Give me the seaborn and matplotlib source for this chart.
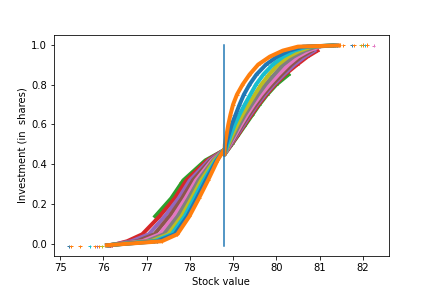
import numpy as np
import pandas as pd
import matplotlib
matplotlib.use("Agg")
import matplotlib.pyplot as plt
import seaborn as sns

# series drawn from the flattest (green) to the steepest (orange)
series_names = ["green", "red", "purple", "brown", "pink",
                "gray", "olive", "cyan", "blue", "orange"]
series_colors = {
    "green": "#2ca02c", "red": "#d62728", "purple": "#9467bd",
    "brown": "#8c564b", "pink": "#e377c2", "gray": "#7f7f7f",
    "olive": "#bcbd22", "cyan": "#17becf", "blue": "#1f77b4",
    "orange": "#ff7f0e",
}

# left branch (below the threshold): stock value at each investment level
left_levels = [-0.005, 0.015, 0.05, 0.14, 0.23, 0.32, 0.42, 0.47]
left_x = {
    "green":  [None, None, None, 77.20, 77.57, 77.85, 78.36, 78.78],
    "red":    [76.20, 76.55, 76.90, 77.30, 77.65, 77.92, 78.40, 78.78],
    "purple": [76.15, 76.65, 77.05, 77.42, 77.74, 78.00, 78.44, 78.78],
    "brown":  [76.15, 76.78, 77.18, 77.53, 77.82, 78.07, 78.48, 78.78],
    "pink":   [76.12, 76.90, 77.30, 77.63, 77.90, 78.14, 78.51, 78.78],
    "gray":   [76.12, 77.00, 77.40, 77.72, 77.97, 78.20, 78.54, 78.78],
    "olive":  [76.10, 77.10, 77.50, 77.81, 78.04, 78.26, 78.57, 78.78],
    "cyan":   [76.10, 77.18, 77.58, 77.88, 78.10, 78.32, 78.60, 78.78],
    "blue":   [76.08, 77.25, 77.65, 77.94, 78.16, 78.37, 78.62, 78.78],
    "orange": [76.08, 77.35, 77.71, 77.99, 78.21, 78.42, 78.64, 78.78],
}

# right branch (above the threshold)
right_levels = [0.45, 0.50, 0.55, 0.60, 0.65, 0.70, 0.75, 0.80,
                0.85, 0.90, 0.94, 0.97, 0.99, 0.996]
right_x = {
    "green":  [78.80, 78.97, 79.13, 79.29, 79.45, 79.61, 79.79, 80.00,
               80.28, None, None, None, None, None],
    "red":    [78.80, 78.96, 79.12, 79.27, 79.43, 79.59, 79.77, 79.97,
               80.20, 80.48, 80.72, 80.95, None, None],
    "purple": [78.80, 78.95, 79.10, 79.25, 79.40, 79.56, 79.74, 79.94,
               80.17, 80.42, 80.66, 80.88, None, None],
    "brown":  [78.80, 78.94, 79.08, 79.22, 79.37, 79.53, 79.70, 79.90,
               80.12, 80.35, 80.58, 80.82, None, None],
    "pink":   [78.80, 78.93, 79.06, 79.19, 79.33, 79.48, 79.65, 79.84,
               80.05, 80.28, 80.50, 80.75, 81.00, None],
    "gray":   [78.80, 78.91, 79.03, 79.15, 79.28, 79.43, 79.58, 79.75,
               79.95, 80.16, 80.40, 80.66, 80.92, 81.30],
    "olive":  [78.80, 78.89, 78.99, 79.10, 79.22, 79.36, 79.50, 79.65,
               79.83, 80.04, 80.28, 80.55, 80.82, 81.30],
    "cyan":   [78.80, 78.87, 78.95, 79.04, 79.15, 79.27, 79.40, 79.53,
               79.70, 79.92, 80.16, 80.42, 80.72, 81.35],
    "blue":   [78.80, 78.84, 78.90, 78.97, 79.06, 79.15, 79.25, 79.38,
               79.54, 79.76, 80.02, 80.30, 80.62, 81.40],
    "orange": [78.80, 78.81, 78.85, 78.89, 78.94, 79.00, 79.09, 79.22,
               79.38, 79.58, 79.85, 80.15, 80.50, 81.45],
}

# isolated points in the tails
tail_x = [75.21, 75.25, 75.46, 75.68, 75.81, 75.86, 75.90, 75.97,
          77.80, 77.88,
          81.55, 81.75, 81.80, 81.95, 82.00, 82.05, 82.10, 82.25]
tail_y = [-0.01, -0.01, -0.01, -0.01, -0.01, -0.01, -0.01, -0.01,
          0.31, 0.325,
          0.997, 0.996, 0.996, 0.997, 0.998, 0.997, 0.998, 0.995]
tail_series = ["blue", "orange", "orange", "cyan", "orange", "purple", "orange", "olive",
               "orange", "orange",
               "orange", "blue", "orange", "olive", "orange", "cyan", "orange", "pink"]

threshold = 78.8
threshold_low = -0.01
threshold_high = 1.0

rows = []
for name in series_names:
    for x, y in zip(left_x[name], left_levels):
        if x is not None:
            rows.append((name, x, y))
    for x, y in zip(right_x[name], right_levels):
        if x is not None:
            rows.append((name, x, y))
df = pd.DataFrame(rows, columns=["series", "x", "y"])
tails = pd.DataFrame({"series": tail_series, "x": tail_x, "y": tail_y})

fig = plt.figure(figsize=(6, 4), dpi=72)
ax = fig.add_subplot(111)

sns.lineplot(data=df, x="x", y="y", hue="series", hue_order=series_names,
             palette=series_colors, estimator=None, sort=False,
             units="series", linewidth=4, legend=False, ax=ax)
sns.scatterplot(data=df, x="x", y="y", hue="series", hue_order=series_names,
                palette=series_colors, marker="+", s=12, linewidth=1,
                legend=False, ax=ax)
sns.scatterplot(data=tails, x="x", y="y", hue="series", hue_order=series_names,
                palette=series_colors, marker="+", s=12, linewidth=1,
                legend=False, ax=ax)

ax.plot([threshold, threshold], [threshold_low, threshold_high], color="#1f77b4", lw=1.5)

ax.set_xlabel("Stock value")
ax.set_ylabel("Investment (in  shares)")

fig.savefig("out.png", dpi=72)
